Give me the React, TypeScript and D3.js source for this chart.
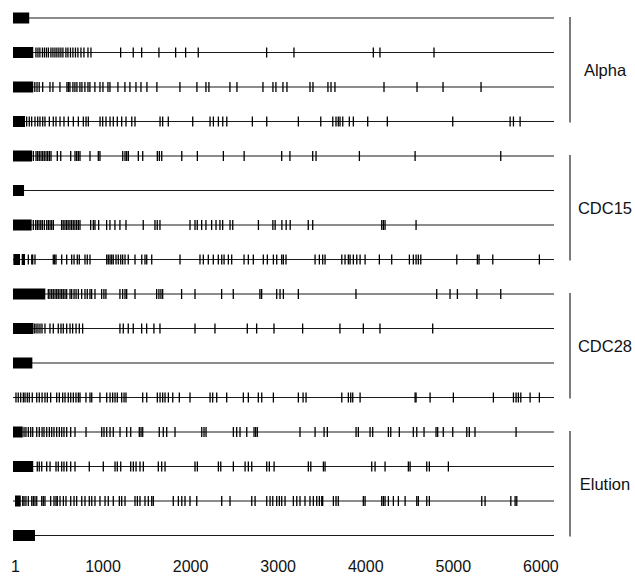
import React from "react";
import * as d3 from "d3";

// positions along the genome (1..6178)
const rowIds = [
  "a1", "a2", "a3", "a4",
  "c15a", "c15b", "c15c", "c15d",
  "c28a", "c28b", "c28c", "c28d",
  "e1", "e2", "e3", "e4",
];

const groups = [
  { name: "Alpha", from: "a1", to: "a4" },
  { name: "CDC15", from: "c15a", to: "c15d" },
  { name: "CDC28", from: "c28a", to: "c28d" },
  { name: "Elution", from: "e1", to: "e4" },
];

const axisTicks = [1, 1000, 2000, 3000, 4000, 5000, 6000];

// solid leading segments [start, end]
const blocks: Record<string, [number, number][]> = {
  a1: [[1, 186]],
  a2: [[1, 232]],
  a3: [[1, 232]],
  a4: [[1, 138]],
  c15a: [[1, 218]],
  c15b: [[1, 127]],
  c15c: [[1, 214]],
  c15d: [[5, 81], [100, 138]],
  c28a: [[1, 370]],
  c28b: [[1, 232]],
  c28c: [[1, 222]],
  c28d: [],
  e1: [[1, 112]],
  e2: [[1, 232]],
  e3: [[24, 90]],
  e4: [[1, 252]],
};

const a1Ticks: number[] = [];
const a2Ticks = [263, 286, 308, 337, 360, 383, 405, 434, 457, 480, 502, 525, 548, 571, 605, 628, 657, 685, 714, 742, 777, 811, 857, 891, 1230, 1374, 1470, 1667, 1858, 1972, 2116, 2897, 3209, 4115, 4191, 4808];
const a3Ticks = [250, 275, 300, 340, 423, 457, 537, 617, 634, 651, 685, 708, 731, 765, 788, 822, 857, 879, 936, 994, 1028, 1085, 1108, 1199, 1279, 1336, 1405, 1462, 1530, 1644, 1907, 2101, 2204, 2238, 2478, 2558, 2855, 2969, 3003, 3083, 3129, 3392, 3426, 3597, 3632, 3677, 4237, 4614, 4911, 5345];
const a4Ticks = [157, 187, 214, 252, 283, 309, 340, 366, 416, 461, 492, 538, 583, 633, 690, 747, 804, 835, 861, 995, 1025, 1063, 1109, 1146, 1192, 1242, 1291, 1357, 1394, 1680, 1710, 1774, 2053, 2251, 2289, 2346, 2396, 2442, 2734, 2898, 3259, 3515, 3652, 3689, 3715, 3735, 3766, 3841, 3887, 4051, 4275, 5022, 5677, 5715, 5791];
const c15aTicks = [233, 264, 283, 301, 321, 340, 358, 378, 397, 416, 435, 507, 546, 660, 709, 728, 747, 766, 880, 975, 994, 1254, 1280, 1299, 1318, 1432, 1482, 1649, 1672, 1699, 1928, 2106, 2403, 2640, 3069, 3163, 3423, 3461, 3956, 4592, 5570];
const c15bTicks: number[] = [];
const c15cTicks = [233, 260, 279, 298, 318, 336, 359, 386, 405, 424, 443, 462, 556, 574, 594, 613, 631, 651, 670, 689, 708, 728, 747, 766, 888, 918, 937, 979, 1070, 1108, 1165, 1222, 1291, 1488, 1622, 1648, 1679, 2022, 2079, 2105, 2155, 2204, 2269, 2319, 2364, 2395, 2479, 2510, 2803, 2968, 2994, 3071, 3120, 3166, 3372, 3423, 4211, 4230, 4249, 4603];
const c15dTicks = [176, 215, 226, 252, 461, 477, 492, 557, 614, 671, 698, 735, 758, 823, 849, 880, 1071, 1089, 1109, 1128, 1146, 1177, 1203, 1231, 1253, 1280, 1317, 1394, 1471, 1508, 1528, 1585, 1908, 2136, 2174, 2231, 2288, 2345, 2384, 2411, 2460, 2498, 2639, 2688, 2745, 2859, 2905, 2974, 3012, 3069, 3088, 3118, 3450, 3499, 3537, 3564, 3755, 3792, 3830, 3850, 3887, 3926, 3964, 4021, 4184, 4325, 4527, 4572, 4603, 4629, 4657, 5068, 5303, 5322, 5479, 6011];
const c28aTicks = [404, 423, 443, 461, 481, 500, 518, 538, 557, 575, 595, 614, 652, 671, 698, 721, 747, 785, 823, 849, 880, 899, 937, 1013, 1039, 1062, 1222, 1253, 1280, 1299, 1394, 1641, 1667, 1690, 1710, 1926, 2079, 2383, 2516, 2820, 2840, 3012, 3050, 3088, 3259, 3917, 4839, 4991, 5075, 5297, 5570];
const c28bTicks = [244, 264, 286, 309, 332, 366, 423, 461, 518, 549, 575, 614, 652, 682, 721, 758, 796, 1222, 1260, 1317, 1374, 1470, 1527, 1610, 1679, 2079, 2307, 2676, 2783, 2981, 3308, 3734, 4001, 4191, 4793];
const c28cTicks: number[] = [];
const c28dTicks = [35, 61, 89, 119, 138, 164, 187, 221, 272, 301, 333, 366, 393, 431, 500, 530, 568, 595, 632, 660, 690, 720, 747, 766, 834, 880, 900, 994, 1071, 1109, 1139, 1166, 1192, 1242, 1269, 1291, 1482, 1528, 1649, 1680, 1710, 1737, 1775, 1825, 1900, 2022, 2251, 2281, 2327, 2441, 2631, 2688, 2802, 2841, 2974, 3259, 3313, 3347, 3755, 3830, 3857, 3880, 3964, 4592, 4603, 4763, 5029, 5486, 5715, 5745, 5771, 5799, 5905, 6011];
const e1Ticks = [127, 149, 176, 203, 226, 272, 301, 333, 355, 386, 416, 443, 469, 500, 530, 557, 583, 614, 660, 709, 835, 1014, 1040, 1071, 1109, 1146, 1223, 1299, 1345, 1443, 1463, 1482, 1671, 1717, 1756, 1851, 2156, 2182, 2205, 2517, 2555, 2593, 2670, 2753, 2772, 2791, 3278, 3450, 3553, 3590, 3918, 3944, 4078, 4108, 4287, 4314, 4412, 4572, 4611, 4694, 4831, 4850, 4914, 5022, 5182, 5211, 5276, 5745];
const e2Ticks = [278, 301, 329, 386, 424, 492, 518, 557, 583, 614, 660, 709, 872, 1032, 1166, 1192, 1231, 1345, 1375, 1406, 1451, 1489, 1660, 1699, 1737, 2079, 2106, 2346, 2373, 2517, 2651, 2688, 2727, 2898, 2928, 2982, 3373, 3401, 3545, 3564, 4097, 4135, 4249, 4515, 4535, 4725, 4755, 4972];
const e3Ticks = [112, 127, 149, 176, 215, 233, 252, 272, 329, 347, 366, 431, 469, 492, 507, 538, 576, 606, 660, 698, 728, 786, 823, 872, 900, 937, 994, 1052, 1089, 1146, 1215, 1242, 1280, 1394, 1421, 1451, 1508, 1546, 1585, 1603, 1831, 1889, 1928, 1965, 2022, 2099, 2384, 2479, 2727, 2765, 2898, 2936, 2967, 3012, 3042, 3069, 3107, 3202, 3241, 3278, 3335, 3392, 3430, 3469, 3499, 3526, 3537, 3659, 3689, 3715, 4001, 4021, 4211, 4230, 4249, 4287, 4344, 4401, 4478, 4611, 4629, 4725, 4755, 5353, 5391, 5685, 5734, 5753];
const e4Ticks: number[] = [];

const ticksByRow: Record<string, number[]> = {
  a1: a1Ticks, a2: a2Ticks, a3: a3Ticks, a4: a4Ticks,
  c15a: c15aTicks, c15b: c15bTicks, c15c: c15cTicks, c15d: c15dTicks,
  c28a: c28aTicks, c28b: c28bTicks, c28c: c28cTicks, c28d: c28dTicks,
  e1: e1Ticks, e2: e2Ticks, e3: e3Ticks, e4: e4Ticks,
};

const width = 635;
const height = 577;
const font = "'Liberation Sans', Arial, sans-serif";

export default function App() {
  const x = d3.scaleLinear().domain([1, 6178]).range([13, 554]);
  const y = d3.scalePoint<string>().domain(rowIds).range([18, 535.5]);

  return (
    <svg
      width={width}
      height={height}
      style={{ position: "absolute", left: 0, top: 0, background: "#fff" }}
      fontFamily={font}
    >
      {rowIds.map((id) => {
        const cy = y(id)!;
        return (
          <g key={id}>
            <line x1={x(1)} x2={x(6178)} y1={cy} y2={cy} stroke="#1a1a1a" strokeWidth={1.2} />
            {blocks[id].map(([s, e], i) => (
              <rect key={i} x={x(s)} y={cy - 5.5} width={x(e) - x(s)} height={11} fill="#000" />
            ))}
            {ticksByRow[id].map((v, i) => (
              <line key={i} x1={x(v)} x2={x(v)} y1={cy - 5} y2={cy + 5} stroke="#000" strokeWidth={1.3} />
            ))}
          </g>
        );
      })}

      {/* group brackets */}
      {groups.map((g) => {
        const y0 = y(g.from)! - 1;
        const y1 = y(g.to)! + 1;
        return (
          <g key={g.name}>
            <line x1={570} x2={570} y1={y0} y2={y1} stroke="#222" strokeWidth={1.2} />
            <text x={605} y={(y0 + y1) / 2} dy="0.35em" textAnchor="middle" fontSize={16.5} fill="#111">
              {g.name}
            </text>
          </g>
        );
      })}

      {/* x axis labels */}
      {axisTicks.map((t) => (
        <text key={t} x={x(t) + 2.5} y={572} textAnchor="middle" fontSize={16} fill="#111">
          {t}
        </text>
      ))}
    </svg>
  );
}
